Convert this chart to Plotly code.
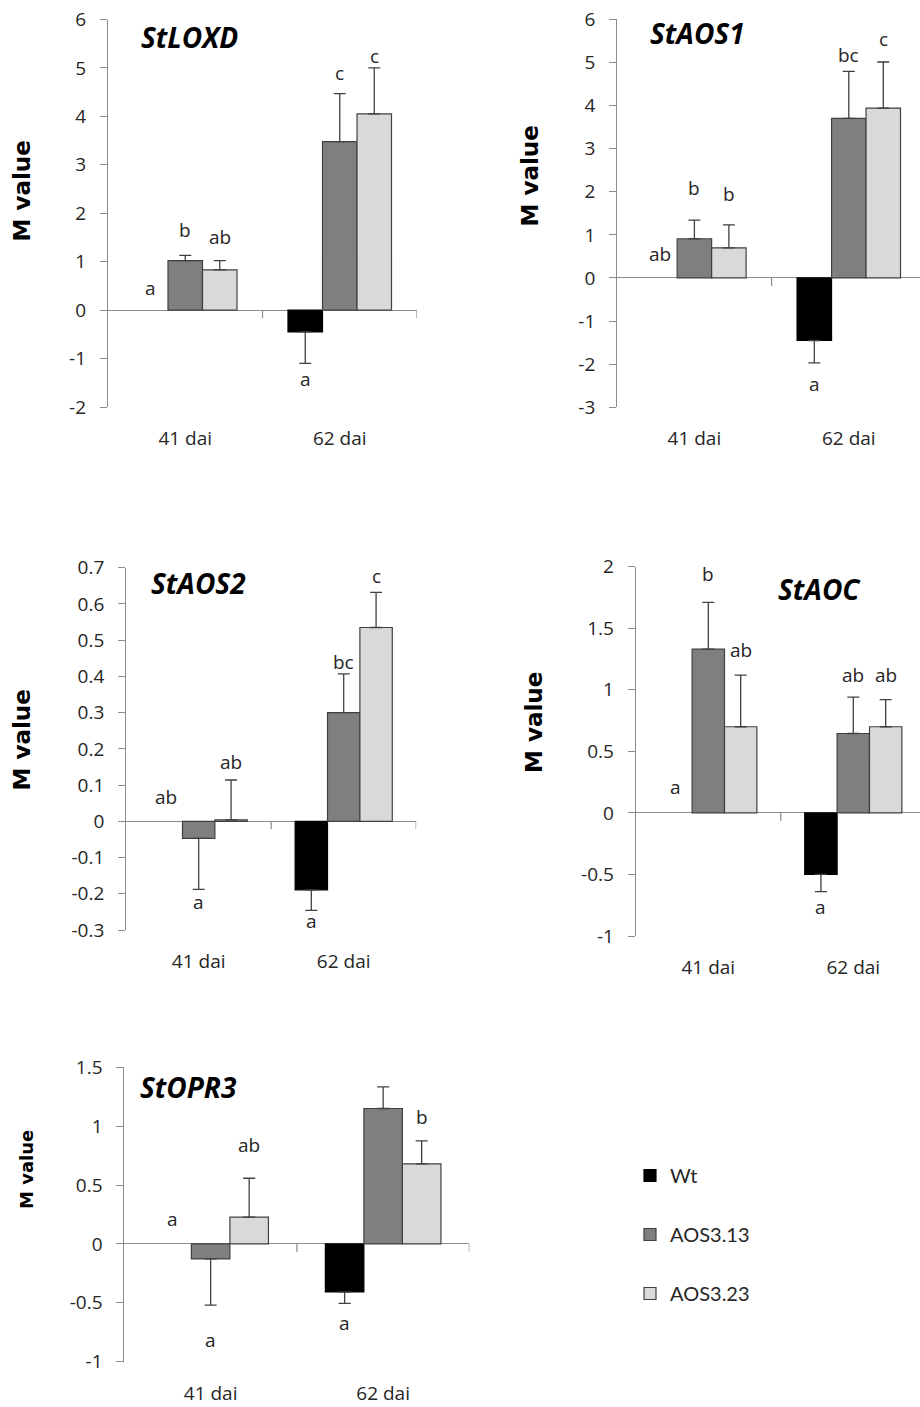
import plotly.graph_objects as go

W, H = 920, 1407

categories = ["41 dai", "62 dai"]
series_names = ["Wt", "AOS3.13", "AOS3.23"]
series_colors = ["#000000", "#7f7f7f", "#d9d9d9"]

# ---- data (M values and one-sided SE) ----
loxd_wt = [0.0, -0.45];   loxd_wt_err = [0.0, 0.65]
loxd_13 = [1.02, 3.48];   loxd_13_err = [0.11, 0.99]
loxd_23 = [0.83, 4.05];   loxd_23_err = [0.19, 0.95]
loxd_letters = [["a", "a"], ["b", "c"], ["ab", "c"]]
loxd_letter_y = [[0.45, -1.42], [1.65, 4.9], [1.5, 5.25]]

aos1_wt = [0.0, -1.45];   aos1_wt_err = [0.0, 0.52]
aos1_13 = [0.91, 3.70];   aos1_13_err = [0.43, 1.09]
aos1_23 = [0.70, 3.94];   aos1_23_err = [0.53, 1.07]
aos1_letters = [["ab", "a"], ["b", "bc"], ["b", "c"]]
aos1_letter_y = [[0.55, -2.46], [2.08, 5.18], [1.94, 5.55]]

aos2_wt = [0.0, -0.189];  aos2_wt_err = [0.0, 0.057]
aos2_13 = [-0.047, 0.30]; aos2_13_err = [0.141, 0.107]
aos2_23 = [0.004, 0.535]; aos2_23_err = [0.11, 0.097]
aos2_letters = [["ab", "a"], ["a", "bc"], ["ab", "c"]]
aos2_letter_y = [[0.068, -0.276], [-0.222, 0.439], [0.163, 0.677]]

aoc_wt = [0.0, -0.50];    aoc_wt_err = [0.0, 0.14]
aoc_13 = [1.33, 0.645];   aoc_13_err = [0.38, 0.295]
aoc_23 = [0.70, 0.70];    aoc_23_err = [0.42, 0.22]
aoc_letters = [["a", "a"], ["b", "ab"], ["ab", "ab"]]
aoc_letter_y = [[0.21, -0.765], [1.94, 1.12], [1.32, 1.12]]

opr3_wt = [0.0, -0.408];  opr3_wt_err = [0.0, 0.096]
opr3_13 = [-0.127, 1.15]; opr3_13_err = [0.393, 0.184]
opr3_23 = [0.227, 0.68];  opr3_23_err = [0.331, 0.195]
opr3_letters = [["a", "a"], ["a", "b"], ["ab", "b"]]
opr3_letter_y = [[0.21, -0.675], [-0.815, 1.56], [0.839, 1.074]]

gene_titles = ["StLOXD", "StAOS1", "StAOS2", "StAOC", "StOPR3"]

y_ticks_loxd = [-2, -1, 0, 1, 2, 3, 4, 5, 6]
y_ticks_aos1 = [-3, -2, -1, 0, 1, 2, 3, 4, 5, 6]
y_ticks_aos2 = [-0.3, -0.2, -0.1, 0, 0.1, 0.2, 0.3, 0.4, 0.5, 0.6, 0.7]
y_ticks_aoc = [-1, -0.5, 0, 0.5, 1, 1.5, 2]
y_ticks_opr3 = [-1, -0.5, 0, 0.5, 1, 1.5]

panels = [
    dict(vals=[loxd_wt, loxd_13, loxd_23], errs=[loxd_wt_err, loxd_13_err, loxd_23_err],
         letters=loxd_letters, ly=loxd_letter_y, ticks=y_ticks_loxd,
         px_x=(108, 417), px_y=(19.5, 407), xmax=1.5,
         title_xy=(189, 37), ylab_xy=(21.5, 191), ylab_size=23),
    dict(vals=[aos1_wt, aos1_13, aos1_23], errs=[aos1_wt_err, aos1_13_err, aos1_23_err],
         letters=aos1_letters, ly=aos1_letter_y, ticks=y_ticks_aos1,
         px_x=(617.2, 920), px_y=(19.3, 407.3), xmax=1.5 - 6.0 / 154.5,
         title_xy=(697, 33), ylab_xy=(530, 176.5), ylab_size=23),
    dict(vals=[aos2_wt, aos2_13, aos2_23], errs=[aos2_wt_err, aos2_13_err, aos2_23_err],
         letters=aos2_letters, ly=aos2_letter_y, ticks=y_ticks_aos2,
         px_x=(126.2, 416.2), px_y=(567.7, 930), xmax=1.5,
         title_xy=(198, 583), ylab_xy=(21.5, 740), ylab_size=23),
    dict(vals=[aoc_wt, aoc_13, aoc_23], errs=[aoc_wt_err, aoc_13_err, aoc_23_err],
         letters=aoc_letters, ly=aoc_letter_y, ticks=y_ticks_aoc,
         px_x=(635.8, 920), px_y=(566.7, 936), xmax=1.5 - 5.8 / 145.0,
         title_xy=(819.5, 589), ylab_xy=(534, 723), ylab_size=23),
    dict(vals=[opr3_wt, opr3_13, opr3_23], errs=[opr3_wt_err, opr3_13_err, opr3_23_err],
         letters=opr3_letters, ly=opr3_letter_y, ticks=y_ticks_opr3,
         px_x=(124.4, 469.4), px_y=(1067.3, 1361.7), xmax=1.5,
         title_xy=(188.5, 1087), ylab_xy=(26, 1170), ylab_size=18),
]

BARGAP = 0.33
bar_w = (1 - BARGAP) / 3.0
offsets = [-bar_w, 0.0, bar_w]

AXIS_GREY = "#8c8c8c"
TXT = "#262626"
TICK_FONT = dict(family="Open Sans", size=19, color=TXT)

fig = go.Figure()
layout = dict(
    width=W, height=H, margin=dict(l=0, r=0, t=0, b=0, pad=0, autoexpand=False),
    paper_bgcolor="white", plot_bgcolor="white",
    barmode="group", bargap=BARGAP, bargroupgap=0,
    showlegend=True,
    legend=dict(x=630 / W, y=1 - 1156 / H, xanchor="left", yanchor="top",
                font=dict(family="Lato", size=20, color=TXT),
                tracegroupgap=30, bgcolor="rgba(0,0,0,0)"),
)
annotations = []
shapes = []

for i, p in enumerate(panels):
    n = i + 1
    xa = "x" if n == 1 else f"x{n}"
    ya = "y" if n == 1 else f"y{n}"
    for s in range(3):
        v = p["vals"][s]
        e = p["errs"][s]
        # the calibrator (exactly 0, no error) is not drawn as a bar
        v_plot = [None if (vv == 0 and ee == 0) else vv for vv, ee in zip(v, e)]
        up = [ee if vv >= 0 else 0 for vv, ee in zip(v, e)]
        dn = [ee if vv < 0 else 0 for vv, ee in zip(v, e)]
        fig.add_trace(go.Bar(
            x=categories, y=v_plot, name=series_names[s], xaxis=xa, yaxis=ya,
            marker=dict(color=series_colors[s],
                        line=dict(color="#000000" if s == 0 else "#404040", width=1.2)),
            error_y=dict(type="data", symmetric=False, array=up, arrayminus=dn,
                         color="#404040", thickness=1.3, width=6, visible=True),
            showlegend=(i == 0), legendgroup=series_names[s],
        ))
        for c in range(2):
            annotations.append(dict(
                x=c + offsets[s], y=p["ly"][s][c], xref=xa, yref=ya,
                text=p["letters"][s][c], showarrow=False,
                xanchor="center", yanchor="middle",
                font=dict(family="Open Sans", size=19, color=TXT)))
    x0, x1 = p["px_x"]
    y0, y1 = p["px_y"]
    ticks = p["ticks"]
    layout[f"xaxis{'' if n == 1 else n}"] = dict(
        domain=[x0 / W, x1 / W], anchor=ya, type="category", automargin=False,
        range=[-0.5, p["xmax"]], showline=False, showgrid=False, zeroline=False,
        ticks="", tickfont=dict(family="Open Sans", size=19, color=TXT),
        ticklabelstandoff=18, fixedrange=True)
    layout[f"yaxis{'' if n == 1 else n}"] = dict(
        domain=[1 - y1 / H, 1 - y0 / H], anchor=xa, automargin=False,
        range=[ticks[0], ticks[-1]], tickvals=ticks,
        ticktext=[f"{t:g}" for t in ticks],
        showline=True, linecolor=AXIS_GREY, linewidth=1.2,
        ticks="outside", ticklen=7, tickcolor=AXIS_GREY, tickwidth=1.2,
        showgrid=False, zeroline=True, zerolinecolor=AXIS_GREY, zerolinewidth=1.2,
        tickfont=TICK_FONT, ticklabelstandoff=10, fixedrange=True)
    # category-boundary tick marks hanging from the zero line
    for b in [0.5, 1.5]:
        shapes.append(dict(type="line", xref=xa, yref=ya, x0=b, x1=b,
                           ysizemode="pixel", yanchor=0, y0=0, y1=-8,
                           line=dict(color=AXIS_GREY, width=1.2)))
    tx, ty = p["title_xy"]
    annotations.append(dict(
        x=tx / W, y=1 - ty / H, xref="paper", yref="paper",
        text=f"<b><i>{gene_titles[i]}</i></b>", showarrow=False,
        xanchor="center", yanchor="middle",
        font=dict(family="Open Sans", size=28, color="#000000")))
    lx, ly = p["ylab_xy"]
    annotations.append(dict(
        x=lx / W, y=1 - ly / H, xref="paper", yref="paper",
        text="<b>M value</b>", showarrow=False, textangle=-90,
        xanchor="center", yanchor="middle",
        font=dict(family="DejaVu Sans", size=p["ylab_size"], color="#000000")))

layout["annotations"] = annotations
layout["shapes"] = shapes
fig.update_layout(**layout)
fig.write_html(
    "out.html",
    config={"displayModeBar": False},
    post_script="document.body.style.margin='0';document.body.style.overflow='hidden';",
)
